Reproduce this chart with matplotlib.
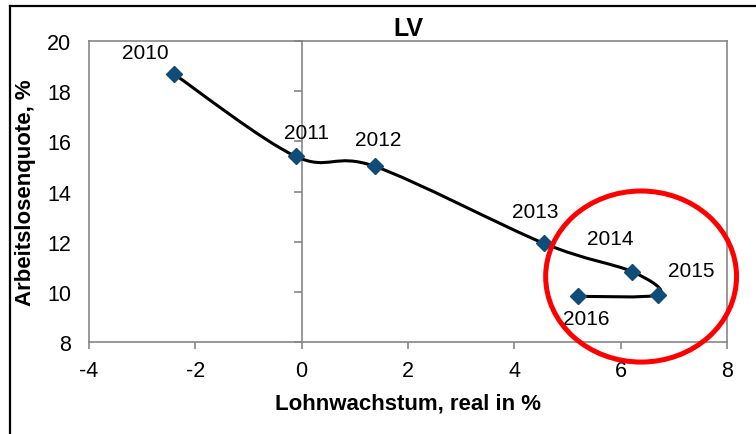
import numpy as np
import matplotlib.pyplot as plt
from matplotlib.path import Path
from matplotlib.patches import PathPatch, Ellipse
from matplotlib.lines import Line2D

plt.rcParams['font.family'] = ['Liberation Sans', 'DejaVu Sans']
plt.rcParams['axes.unicode_minus'] = False

# data
years = ['2010', '2011', '2012', '2013', '2014', '2015', '2016']
wage_growth = [-2.40, -0.11, 1.38, 4.56, 6.22, 6.71, 5.19]
unemployment = [18.68, 15.40, 15.00, 11.93, 10.80, 9.89, 9.82]
# label offsets in pixels (dx, dy)
label_offsets = [(-29, 22), (11, 24), (3, 27), (-9, 32), (-22, 33), (33, 24), (9, -22)]

grey = '#868686'
blue = '#0F4C7A'

fig = plt.figure(figsize=(7.56, 4.35), dpi=100)
ax = fig.add_axes([0.1177, 0.2115, 0.8439, 0.6919])
ax.set_xlim(-4, 8)
ax.set_ylim(8, 20)
ax.set_xticks(range(-4, 9, 2))
ax.set_yticks(range(8, 21, 2))

for s in ax.spines.values():
    s.set_color(grey)
    s.set_linewidth(1.2)

ax.tick_params(axis='x', direction='out', length=5, width=1.2, color=grey,
               labelsize=15.5, pad=8)
ax.tick_params(axis='y', length=0, labelsize=15.5, pad=13)

# vertical axis crosses at x = 0 (ticks live there)
sec = ax.secondary_yaxis(4 / 12)
sec.spines['left'].set_color(grey)
sec.spines['left'].set_linewidth(1.2)
sec.set_yticks(range(8, 21, 2))
sec.tick_params(axis='y', direction='out', length=6, width=1.2, color=grey,
                labelleft=False)

# smoothed line like Excel (cubic bezier, Catmull-Rom control points)
pts = np.column_stack([wage_growth, unemployment])
n = len(pts)
verts = [tuple(pts[0])]
codes = [Path.MOVETO]
for i in range(n - 1):
    p0 = pts[max(i - 1, 0)]
    p1 = pts[i]
    p2 = pts[i + 1]
    p3 = pts[min(i + 2, n - 1)]
    c1 = p1 + (p2 - p0) / 6
    c2 = p2 - (p3 - p1) / 6
    verts += [tuple(c1), tuple(c2), tuple(p2)]
    codes += [Path.CURVE4] * 3
ax.add_patch(PathPatch(Path(verts, codes), facecolor='none', edgecolor='black',
                       linewidth=2.2, zorder=3))

ax.plot(wage_growth, unemployment, linestyle='none', marker='D', markersize=8,
        color=blue, zorder=4)

for yr, x, y, (dx, dy) in zip(years, wage_growth, unemployment, label_offsets):
    ax.annotate(yr, (x, y), xytext=(dx, dy), textcoords='offset pixels',
                ha='center', va='center', fontsize=15)

ax.set_title('LV', fontsize=18, fontweight='bold', pad=4)
ax.set_xlabel('Lohnwachstum, real in %', fontsize=16, fontweight='bold', labelpad=8)
ax.set_ylabel('Arbeitslosenquote, %', fontsize=16, fontweight='bold', labelpad=8)

# red circle around the last years
ax.add_patch(Ellipse((6.385, 10.61), 3.59, 6.82, fill=False, edgecolor='#FF0000',
                     linewidth=3.6, clip_on=False, zorder=5))

# chart border (top and left visible)
fig.add_artist(Line2D([10 / 756, 1], [1 - 7 / 435, 1 - 7 / 435], color='black', linewidth=1.6))
fig.add_artist(Line2D([10 / 756, 10 / 756], [0, 1 - 7 / 435], color='black', linewidth=1.6))

fig.savefig('out.png', dpi=100)
